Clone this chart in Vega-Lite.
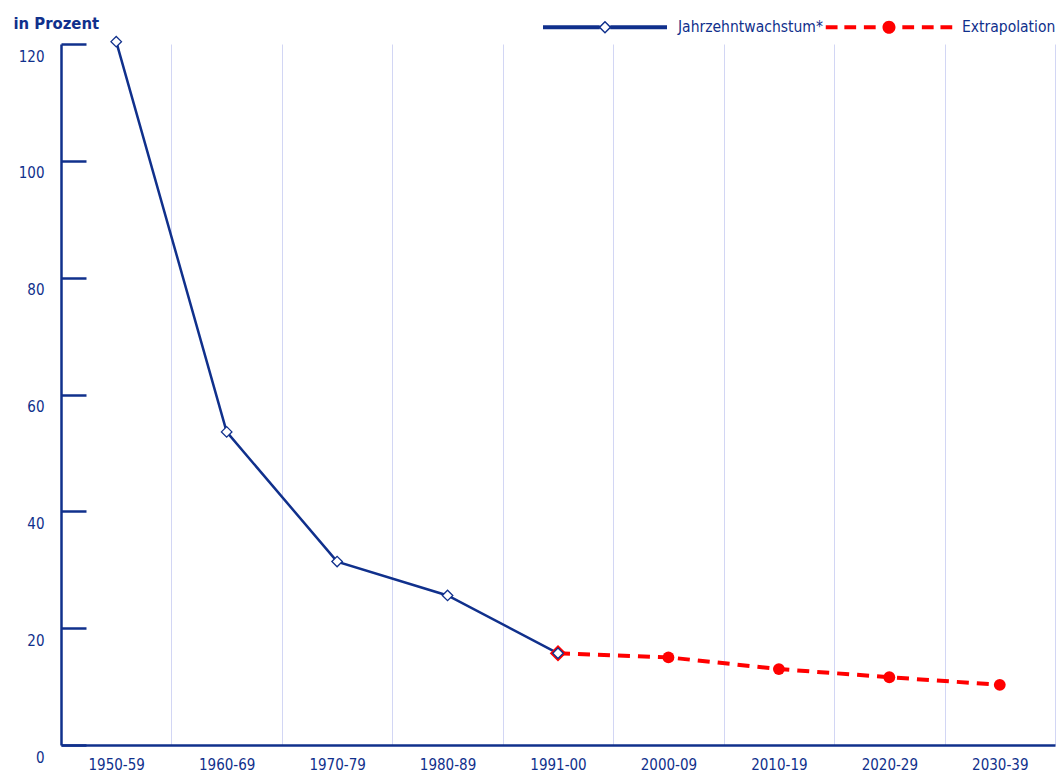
{
  "$schema": "https://vega.github.io/schema/vega-lite/v6.json",
  "autosize": "none",
  "width": 994,
  "height": 701,
  "padding": {"left": 61, "top": 44, "right": 4, "bottom": 34},
  "background": "white",
  "config": {
    "view": {"stroke": null},
    "font": "DejaVu Sans Condensed, sans-serif"
  },
  "data": {
    "values": [
      {"period": "1950-59", "value": 120.4, "series": "Jahrzehntwachstum*"},
      {"period": "1960-69", "value": 53.6, "series": "Jahrzehntwachstum*"},
      {"period": "1970-79", "value": 31.4, "series": "Jahrzehntwachstum*"},
      {"period": "1980-89", "value": 25.6, "series": "Jahrzehntwachstum*"},
      {"period": "1991-00", "value": 15.7, "series": "Jahrzehntwachstum*"},
      {"period": "1991-00", "value": 15.7, "series": "Extrapolation"},
      {"period": "2000-09", "value": 15.0, "series": "Extrapolation"},
      {"period": "2010-19", "value": 13.0, "series": "Extrapolation"},
      {"period": "2020-29", "value": 11.6, "series": "Extrapolation"},
      {"period": "2030-39", "value": 10.3, "series": "Extrapolation"}
    ]
  },
  "encoding": {
    "x": {
      "field": "period",
      "type": "nominal",
      "scale": {
        "type": "band",
        "paddingInner": 0,
        "paddingOuter": 0,
        "domain": ["1950-59", "1960-69", "1970-79", "1980-89", "1991-00", "2000-09", "2010-19", "2020-29", "2030-39"]
      },
      "axis": {
        "title": null,
        "orient": "bottom",
        "labelAngle": 0,
        "labelFont": "DejaVu Sans Condensed, sans-serif",
        "labelFontSize": 15,
        "labelColor": "#10308c",
        "labelPadding": 12,
        "ticks": false,
        "tickBand": "extent",
        "grid": true,
        "gridColor": "#d2d6f4",
        "gridWidth": 1,
        "domain": true,
        "domainColor": "#10308c",
        "domainWidth": 2.5,
        "zindex": 0
      }
    },
    "y": {
      "field": "value",
      "type": "quantitative",
      "scale": {"domain": [0, 120], "nice": false, "zero": true},
      "axis": {
        "title": "in Prozent",
        "titleAngle": 0,
        "titleAlign": "left",
        "titleBaseline": "alphabetic",
        "titleX": -48,
        "titleY": -16,
        "titleFont": "DejaVu Sans Condensed, sans-serif",
        "titleFontSize": 16.5,
        "titleFontWeight": "bold",
        "titleColor": "#10308c",
        "values": [0, 20, 40, 60, 80, 100, 120],
        "labelFont": "DejaVu Sans Condensed, sans-serif",
        "labelFontSize": 15,
        "labelColor": "#10308c",
        "labelPadding": 42,
        "labelOffset": 12,
        "ticks": true,
        "tickSize": -25,
        "tickWidth": 2.5,
        "tickColor": "#10308c",
        "grid": false,
        "domain": true,
        "domainColor": "#10308c",
        "domainWidth": 2.5,
        "zindex": 1
      }
    }
  },
  "layer": [
    {
      "transform": [{"filter": "datum.series === 'Extrapolation'"}],
      "mark": {"type": "line", "stroke": "#ff0000", "strokeWidth": 4, "strokeDash": [12, 8]}
    },
    {
      "transform": [{"filter": "datum.series === 'Jahrzehntwachstum*'"}],
      "mark": {"type": "line", "strokeWidth": 2.5},
      "encoding": {
        "color": {
          "field": "series",
          "type": "nominal",
          "scale": {"domain": ["Jahrzehntwachstum*", "Extrapolation"], "range": ["#10308c", "#ff0000"]},
          "legend": {
            "title": null,
            "orient": "none",
            "direction": "horizontal",
            "legendX": 482,
            "legendY": -79,
            "padding": 0,
            "columnPadding": 2,
            "symbolSize": 15376,
            "labelOffset": 11,
            "labelFont": "DejaVu Sans Condensed, sans-serif",
            "labelFontSize": 15.5,
            "labelColor": "#10308c",
            "labelLimit": 300,
            "encode": {
              "symbols": {
                "update": {
                  "shape": {"signal": "datum.value === 'Extrapolation' ? 'M-1.02,-0.032L-0.83,-0.032L-0.83,0.032L-1.02,0.032Z M-0.72,-0.032L-0.53,-0.032L-0.53,0.032L-0.72,0.032Z M-0.405,-0.032L-0.215,-0.032L-0.215,0.032L-0.405,0.032Z M0.215,-0.032L0.405,-0.032L0.405,0.032L0.215,0.032Z M0.53,-0.032L0.72,-0.032L0.72,0.032L0.53,0.032Z M0.83,-0.032L1.02,-0.032L1.02,0.032L0.83,0.032Z M-0.105,0A0.105,0.105 0 1,0 0.105,0A0.105,0.105 0 1,0 -0.105,0Z' : 'M-1,-0.032L-0.085,-0.032L-0.085,0.032L-1,0.032Z M0.085,-0.032L1,-0.032L1,0.032L0.085,0.032Z M-0.105,0L0,-0.105L0.105,0L0,0.105Z M-0.071,0L0,0.071L0.071,0L0,-0.071Z'"},
                  "fill": {"signal": "datum.value === 'Extrapolation' ? '#ff0000' : '#10308c'"},
                  "stroke": {"value": "transparent"},
                  "strokeWidth": {"value": 0},
                  "opacity": {"value": 1},
                  "fillOpacity": {"value": 1}
                }
              }
            }
          }
        }
      }
    },
    {
      "transform": [{"filter": "datum.series === 'Extrapolation' && datum.period !== '1991-00'"}],
      "mark": {"type": "point", "shape": "circle", "filled": true, "fill": "#ff0000", "stroke": null, "size": 140, "opacity": 1}
    },
    {
      "transform": [{"filter": "datum.series === 'Extrapolation' && datum.period === '1991-00'"}],
      "mark": {"type": "point", "shape": "diamond", "filled": true, "fill": "white", "stroke": "#ff0000", "strokeWidth": 2.5, "size": 170, "opacity": 1}
    },
    {
      "transform": [{"filter": "datum.series === 'Jahrzehntwachstum*'"}],
      "mark": {"type": "point", "shape": "diamond", "filled": true, "fill": "white", "stroke": "#10308c", "strokeWidth": 1.3, "size": 110, "opacity": 1}
    }
  ]
}
